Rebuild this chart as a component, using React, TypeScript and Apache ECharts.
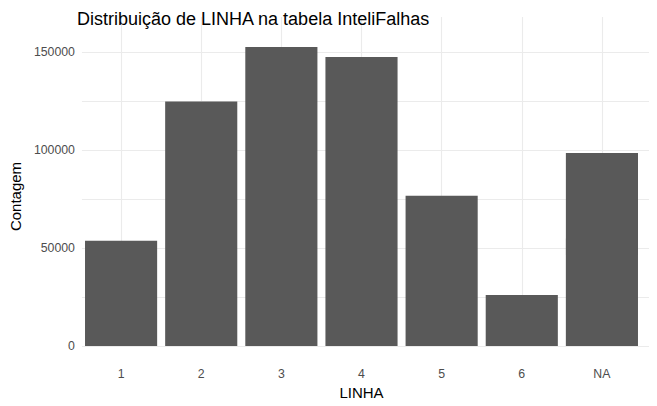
import React, { useEffect, useRef } from "react";
import * as echarts from "echarts";

const categories = ["1", "2", "3", "4", "5", "6", "NA"];
const counts = [53700, 124800, 152700, 147600, 76700, 26000, 98600];
const yMajorTicks = [0, 50000, 100000, 150000];
const yMinorTicks = [25000, 75000, 125000];

const FONT = "'Liberation Sans', Arial, sans-serif";

export default function App() {
  const ref = useRef<HTMLDivElement>(null);
  useEffect(() => {
    if (!ref.current) return;
    const chart = echarts.init(ref.current, null, { renderer: "svg" });
    const maxV = Math.max(...counts);
    const pad = maxV * 0.05;
    const allY = [...yMajorTicks, ...yMinorTicks].sort((a, b) => a - b);
    const W = 657;
    const H = 406;
    const panelLeft = 74;
    const panelRight = 649;
    const unit = (panelRight - panelLeft) / (categories.length + 1.2);
    const gridTop = 32;
    const gridBottom = H - 361;
    const panelHeight = H - gridTop - gridBottom;
    const gridLine = { color: "#ebebeb", width: 1.1 };
    chart.setOption({
      animation: false,
      backgroundColor: "#ffffff",
      textStyle: { fontFamily: FONT },
      title: {
        text: "Distribuição de LINHA na tabela InteliFalhas",
        left: 72,
        top: 5,
        textStyle: { fontFamily: FONT, fontSize: 18, fontWeight: "normal", color: "#000000" },
      },
      grid: [
        { left: panelLeft, right: W - panelRight, top: gridTop, bottom: gridBottom, containLabel: false },
        {
          left: panelLeft + unit * 0.1,
          right: W - panelRight + unit * 0.1,
          top: gridTop,
          bottom: gridBottom,
          containLabel: false,
        },
      ],
      xAxis: [
        { gridIndex: 0, type: "value", min: 0, max: 1, show: false },
        {
          gridIndex: 1,
          type: "category",
          data: categories,
          boundaryGap: true,
          name: "LINHA",
          nameLocation: "middle",
          nameGap: 20,
          nameTextStyle: { fontFamily: FONT, fontSize: 15, color: "#000000" },
          axisLine: { show: false },
          axisTick: {
            show: true,
            alignWithLabel: true,
            inside: true,
            length: panelHeight,
            lineStyle: gridLine,
          },
          axisLabel: {
            margin: 7,
            fontFamily: FONT,
            fontSize: 12.3,
            color: "#4d4d4d",
          },
          splitLine: { show: false },
        },
      ],
      yAxis: [
        {
          gridIndex: 0,
          type: "value",
          min: -pad,
          max: maxV + pad,
          name: "Contagem",
          nameLocation: "middle",
          nameGap: 51,
          nameTextStyle: { fontFamily: FONT, fontSize: 15, color: "#000000" },
          axisLine: { show: false },
          axisTick: { show: false, customValues: allY },
          axisLabel: {
            customValues: yMajorTicks,
            margin: 7,
            fontFamily: FONT,
            fontSize: 12.3,
            color: "#4d4d4d",
            formatter: (v: number) => String(Math.round(v)),
          },
          splitLine: { show: true, lineStyle: gridLine },
        },
        {
          gridIndex: 1,
          type: "value",
          min: -pad,
          max: maxV + pad,
          show: false,
          splitLine: { show: false },
        },
      ],
      series: [
        {
          type: "bar",
          xAxisIndex: 1,
          yAxisIndex: 1,
          data: counts,
          barWidth: "90%",
          itemStyle: { color: "#595959" },
        },
      ],
    });
    return () => chart.dispose();
  }, []);
  return (
    <div
      ref={ref}
      style={{ position: "fixed", left: 0, top: 0, width: 657, height: 406, background: "#fff" }}
    />
  );
}
